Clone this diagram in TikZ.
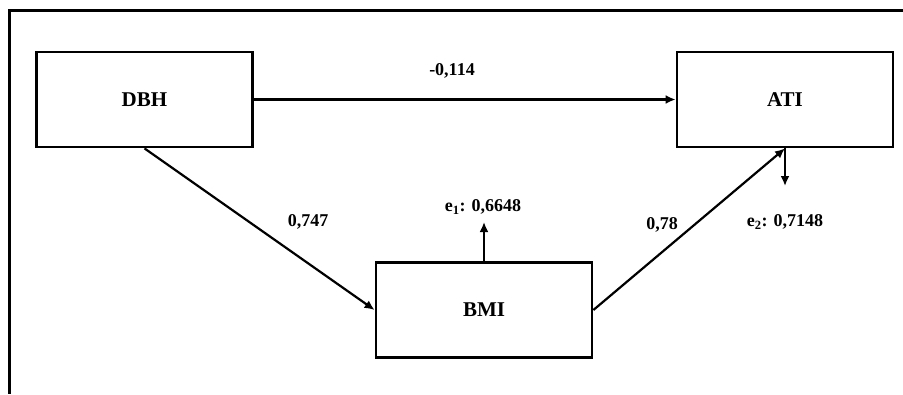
\documentclass[tikz,border=0pt]{standalone}
\usepackage{fontspec}
\setmainfont{Liberation Serif}
\usepackage{tikz}
\usetikzlibrary{arrows.meta}

\tikzset{
  var/.style={draw, line width=2.8pt, minimum width=216pt, minimum height=95pt,
              font=\fontsize{21}{23}\selectfont\bfseries},
  coef/.style={font=\fontsize{18}{20}\selectfont\bfseries, inner sep=0pt},
  path/.style={line width=2.2pt, -{Latex[length=10pt, width=9pt]}}
}

\begin{document}
\begin{tikzpicture}[x=1pt, y=-1pt]
  \useasboundingbox (0,0) rectangle (903,394);
  % frame
  \draw[line width=3pt] (903,10) -- (9,10) -- (9,394);

  % variables
  \node[var] (dbh) at (144.5,99.5) {DBH};
  \node[var] (ati) at (785,99.5) {ATI};
  \node[var] (bmi) at (484,310) {BMI};

  % error terms
  \coordinate (e1) at (484,222);
  \coordinate (e2) at (785,186);

  % paths
  \draw[path] (dbh) -- (ati);
  \draw[path] (dbh.south) -- (bmi.west);
  \draw[path] (bmi.east) -- (ati.south);
  \draw[path] (bmi.north) -- (e1);
  \draw[path] (ati.south) -- (e2);

  % coefficients
  \node[coef] (c1) at (452,71) {-0,114};
  \node[coef] (c2) at (308,222) {0,747};
  \node[coef] (c3) at (662,225) {0,78};
  \node[coef] (r1) at (483,207) {e\textsubscript{1}: 0,6648};
  \node[coef] (r2) at (785,222) {e\textsubscript{2}: 0,7148};
\end{tikzpicture}
\end{document}
